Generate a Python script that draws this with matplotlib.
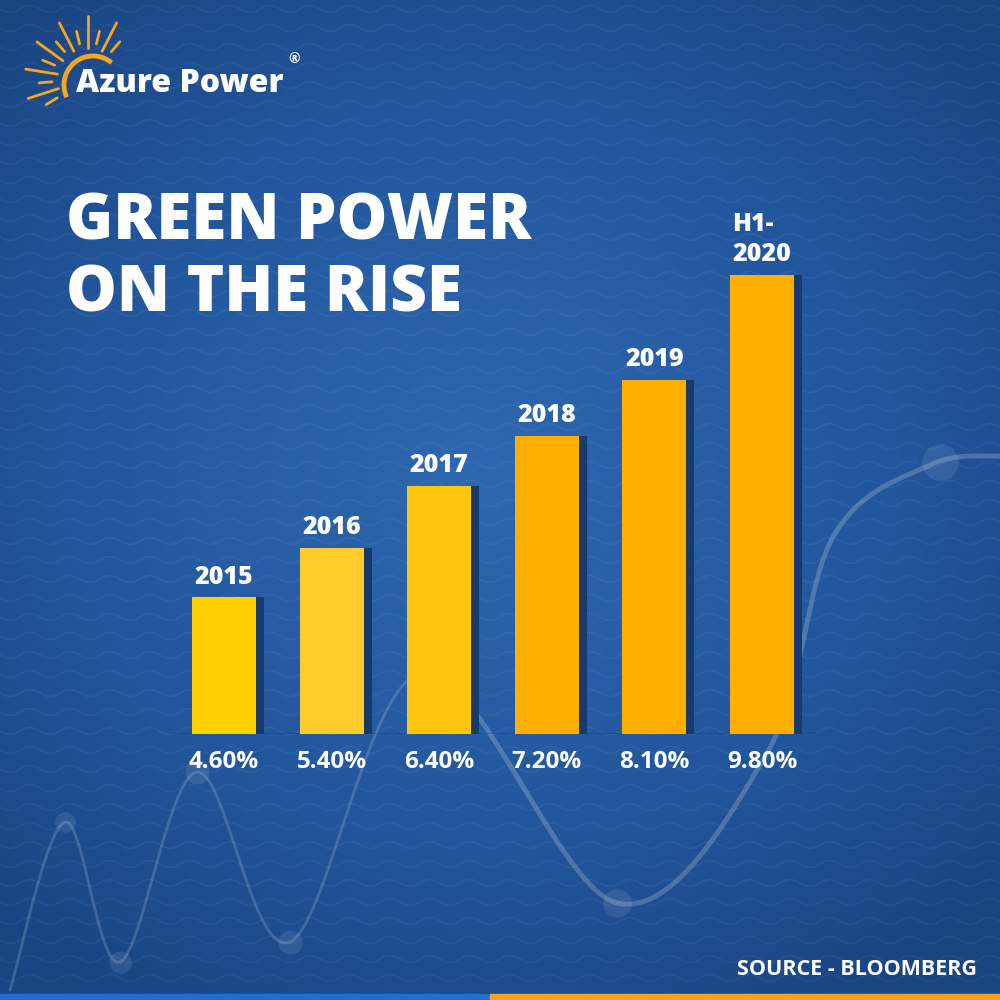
import numpy as np
import matplotlib
matplotlib.use('Agg')
import matplotlib.pyplot as plt
from matplotlib.colors import LinearSegmentedColormap

# ── data ──
years = ['2015', '2016', '2017', '2018', '2019', 'H1-\n2020']
share = [4.6, 5.4, 6.4, 7.2, 8.1, 9.8]
share_labels = ['4.60%', '5.40%', '6.40%', '7.20%', '8.10%', '9.80%']
bar_colors = ['#ffd000', '#ffcc2b', '#ffc50f', '#ffaf00', '#ffaf00', '#ffaf00']

FONT = 'Open Sans'
W = H = 1000


def catmull_rom(px, py, n=40):
    # smooth path through the given knots (background decoration only)
    px = np.r_[px[0], px, px[-1]]
    py = np.r_[py[0], py, py[-1]]
    ox, oy = [], []
    t = np.linspace(0, 1, n)[:, None]
    for i in range(1, len(px) - 2):
        p = np.array([[px[j], py[j]] for j in range(i - 1, i + 3)])
        seg = 0.5 * ((2 * p[1]) + (-p[0] + p[2]) * t
                     + (2 * p[0] - 5 * p[1] + 4 * p[2] - p[3]) * t ** 2
                     + (-p[0] + 3 * p[1] - 3 * p[2] + p[3]) * t ** 3)
        ox.append(seg[:, 0])
        oy.append(seg[:, 1])
    return np.concatenate(ox), np.concatenate(oy)


fig = plt.figure(figsize=(10, 10), dpi=100)

# ── background: radial blue gradient + wavy texture ──
bg = fig.add_axes([0, 0, 1, 1])
bg.set_xlim(0, W)
bg.set_ylim(H, 0)
bg.axis('off')
yy, xx = np.mgrid[0:H:2, 0:W:2]
r = np.sqrt(((xx - 480) / 700.0) ** 2 + ((yy - 470) / 620.0) ** 2)
cmap = LinearSegmentedColormap.from_list('bgblue', ['#2e68ae', '#2459a0', '#1a4583'])
bg.imshow(np.clip(r, 0, 1), cmap=cmap, extent=[0, W, H, 0], aspect='auto',
          interpolation='bilinear', zorder=0)

xs = np.linspace(0, W, 600)
for y0 in np.arange(-10, H + 20, 19):
    bg.plot(xs, y0 + 3.5 * np.sin(xs / 40.0 * 2 * np.pi), color='white',
            alpha=0.055, lw=1.0, zorder=1)

# faint decorative curve across the lower half
decor_x = [10, 65, 120, 197, 290, 423, 617, 767, 833, 930, 1000]
decor_y = [990, 822, 962, 772, 942, 672, 903, 753, 537, 465, 456]
cx, cy = catmull_rom(decor_x, decor_y)
half = len(cx) // 2
bg.plot(cx[:half + 1], cy[:half + 1], color='white', alpha=0.16, lw=2,
        zorder=1, solid_capstyle='round')
bg.plot(cx[half:], cy[half:], color='white', alpha=0.2, lw=3.5, zorder=1,
        solid_capstyle='round')
for px, py, s in [(65, 822, 220), (120, 962, 260), (197, 772, 300),
                  (290, 942, 300), (423, 672, 380), (617, 903, 420), (940, 462, 700)]:
    bg.scatter([px], [py], s=s, color='white', alpha=0.09, zorder=1, lw=0)

# bottom strip
bg.fill_between([0, 490], 994, 1000, color='#1f6fd2', zorder=2)
bg.fill_between([490, 1000], 994, 1000, color='#f7a21b', zorder=2)

# ── logo ──
sun_c = (88, 79)
for i, ang in enumerate(np.arange(49.5, 215, 13.5)):
    a = np.deg2rad(ang)
    r0, r1 = (31, 63) if i % 2 == 1 else (36, 49)
    bg.plot([sun_c[0] + r0 * np.cos(a), sun_c[0] + r1 * np.cos(a)],
            [sun_c[1] - r0 * np.sin(a), sun_c[1] - r1 * np.sin(a)],
            color='#f4a623', lw=2.0, solid_capstyle='round', zorder=3)
th = np.deg2rad(np.linspace(55, 200, 60))
bg.plot(93 + 29 * np.cos(th), 85 - 29 * np.sin(th),
        color='#f4a623', lw=3.5, zorder=3)
bg.text(76, 92, 'Azure Power', color='white', fontsize=23, fontweight='heavy',
        family=FONT, va='baseline', ha='left', zorder=4)
bg.text(288, 63, '®', color='white', fontsize=10, fontweight='bold',
        family=FONT, va='baseline', ha='left', zorder=4)

# ── title ──
bg.text(66, 240, 'GREEN POWER', color='white', fontsize=46, fontweight='heavy',
        family=FONT, va='baseline', ha='left', zorder=4)
bg.text(66, 312, 'ON THE RISE', color='white', fontsize=46, fontweight='heavy',
        family=FONT, va='baseline', ha='left', zorder=4)

bg.text(977, 975, 'SOURCE - BLOOMBERG', color='white', fontsize=15.5,
        fontweight='bold', family=FONT, va='baseline', ha='right', zorder=4)

# ── bar chart ──
base = 2.394
ax = fig.add_axes([0.1702, 0.266, 0.6456, 0.5027])
ax.set_facecolor('none')
ax.patch.set_alpha(0)
x = np.arange(len(share))
width = 0.595
ax.bar(x + 0.075, share, width, color='#183a6b', zorder=2)
ax.bar(x, share, width, color=bar_colors, zorder=3)
ax.axhline(base, color='#163564', lw=2, alpha=0.35, zorder=1)
ax.set_xlim(-0.5, len(share) - 0.5)
ax.set_ylim(base, 10.5)
ax.axis('off')

for xi, v, yl, pl in zip(x, share, years, share_labels):
    ax.annotate(yl, (xi, v), xytext=(0, 5.5), textcoords='offset points',
                ha='center', va='bottom', color='white', fontsize=18,
                fontweight='heavy', family=FONT, multialignment='left',
                linespacing=1.25, annotation_clip=False)
    ax.annotate(pl, (xi, base), xytext=(0, -11.5), textcoords='offset points',
                ha='center', va='top', color='white', fontsize=17.5,
                fontweight='bold', family=FONT, annotation_clip=False)

fig.savefig('out.png', dpi=100)
